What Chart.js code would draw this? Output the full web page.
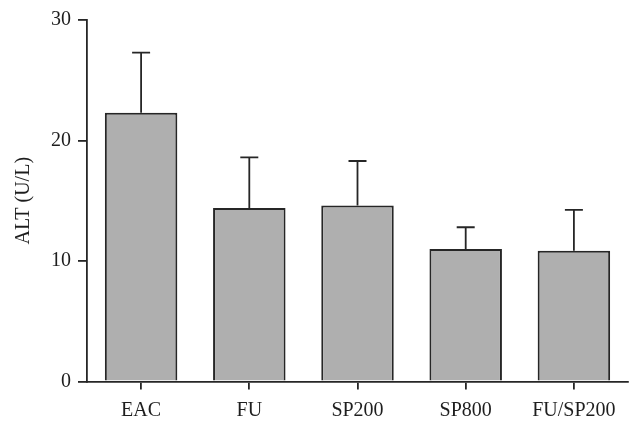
<!DOCTYPE html>
<html>
<head>
<meta charset="utf-8">
<script src="https://cdn.jsdelivr.net/npm/chart.js@4/dist/chart.umd.min.js"></script>
<style>
  html, body { margin: 0; padding: 0; background: #fff; }
  #wrap { width: 642px; height: 432px; }
</style>
</head>
<body>
<div id="wrap"><canvas id="c"></canvas></div>
<script>
// groups and ALT means (U/L), with the upper error bar (mean + SD)
const groups = ['EAC', 'FU', 'SP200', 'SP800', 'FU/SP200'];
const altMean = [22.3, 14.4, 14.6, 11.0, 10.85];
const altErr = [5.0, 4.2, 3.7, 1.8, 3.4];
const yTicks = [0, 10, 20, 30];

const ink = '#262626';
const serif = '"Liberation Serif", "DejaVu Serif", serif';

// draws the upper half of the error bars with a cap
const errorBars = {
    id: 'errorBars',
    afterDatasetsDraw(chart) {
        const ctx = chart.ctx;
        const meta = chart.getDatasetMeta(0);
        const y = chart.scales.y;
        ctx.save();
        ctx.strokeStyle = ink;
        ctx.lineWidth = 1.8;
        meta.data.forEach((bar, i) => {
            const top = y.getPixelForValue(altMean[i] + altErr[i]);
            ctx.beginPath();
            ctx.moveTo(bar.x, bar.y);
            ctx.lineTo(bar.x, top);
            ctx.moveTo(bar.x - 9, top);
            ctx.lineTo(bar.x + 9, top);
            ctx.stroke();
        });
        ctx.restore();
    }
};

new Chart(document.getElementById('c'), {
    type: 'bar',
    data: {
        labels: groups,
        datasets: [{
            data: altMean,
            backgroundColor: '#afafaf',
            borderColor: ink,
            borderWidth: 2,
            barPercentage: 0.67,
            categoryPercentage: 1
        }]
    },
    options: {
        responsive: true,
        maintainAspectRatio: false,
        animation: false,
        layout: { padding: { top: 20, right: 14, left: 0, bottom: 0 } },
        plugins: { legend: { display: false }, tooltip: { enabled: false } },
        scales: {
            x: {
                offset: true,
                grid: { display: true, offset: false, drawOnChartArea: false, drawTicks: true, tickLength: 8, color: ink, lineWidth: 1.8 },
                border: { display: true, color: ink, width: 1.8 },
                ticks: { color: '#1e1e1e', font: { family: serif, size: 20 }, padding: 9, maxRotation: 0 },
                afterFit(s) { s.height = 50.5; }
            },
            y: {
                min: 0,
                max: 30,
                afterBuildTicks(s) { s.ticks = yTicks.map(v => ({ value: v })); },
                grid: { display: true, drawOnChartArea: false, drawTicks: true, tickLength: 9, color: ink, lineWidth: 1.8 },
                border: { display: true, color: ink, width: 1.8 },
                ticks: { color: '#1e1e1e', font: { family: serif, size: 20 }, padding: 7 },
                title: { display: true, text: 'ALT (U/L)', color: '#1e1e1e', font: { family: serif, size: 20 }, padding: { top: 12, bottom: 0 } },
                afterFit(s) { s.width = 87; }
            }
        }
    },
    plugins: [errorBars]
});
</script>
</body>
</html>
